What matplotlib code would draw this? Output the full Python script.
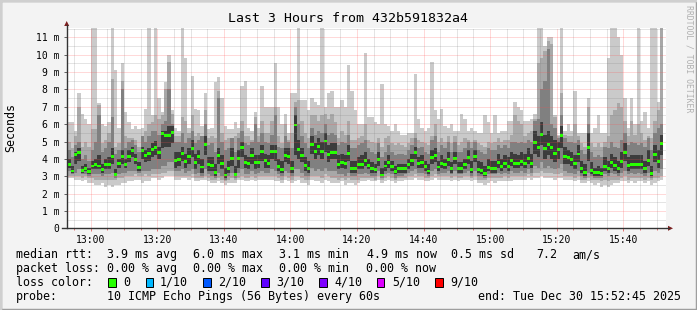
import matplotlib
matplotlib.use('Agg')
import matplotlib.pyplot as plt
import numpy as np
from matplotlib.lines import Line2D
from matplotlib.patches import Polygon, Rectangle

plt.rcParams['font.family'] = ['DejaVu Sans Mono']

# ---------------- data (one value per minute, 12:53 .. 15:51) ----------------
title = "Last 3 Hours from 432b591832a4"
ylabel = "Seconds"
x_ticks_min = [7.25 + 20 * i for i in range(9)]           # minutes after 12:52:45
x_tick_labels = ["13:00", "13:20", "13:40", "14:00", "14:20", "14:40", "15:00", "15:20", "15:40"]
y_ticks = list(range(12))
y_tick_labels = ["0"] + ["%d m" % v for v in range(1, 12)]

rtt_median = [
 3.69,3.30,4.26,4.36,3.32,3.42,3.26,3.59,3.65,3.59,3.38,3.65,3.69,4.13,3.11,3.74,4.15,3.70,4.11,4.47,3.97,3.49,4.47,4.22,4.32,4.53,4.68,4.38,5.47,5.37,
 5.37,5.51,3.88,3.97,4.32,3.84,4.11,4.57,3.78,4.11,3.53,4.84,3.65,3.63,3.22,4.18,3.72,3.07,3.42,4.03,3.11,4.03,4.64,3.80,3.74,4.20,3.80,3.80,4.41,3.88,
 3.76,4.41,4.41,3.57,3.38,4.22,4.13,3.42,5.95,4.53,4.17,3.61,3.45,4.82,4.41,4.72,4.45,5.03,4.24,4.38,4.38,3.70,3.78,3.72,4.30,3.42,3.42,3.65,3.69,3.90,
 3.63,3.45,3.38,3.95,3.07,3.59,3.80,3.57,3.26,3.42,3.42,3.42,3.69,3.90,4.38,3.76,3.80,3.57,3.30,4.07,4.20,3.53,3.76,3.65,3.99,3.45,4.03,3.42,3.42,3.65,
 4.07,3.38,4.13,3.38,3.34,3.15,3.49,3.45,3.45,3.80,3.55,3.76,3.57,3.88,3.72,3.72,3.84,3.74,4.01,3.76,4.93,4.68,5.41,4.57,4.84,4.64,4.30,4.53,5.37,4.13,
 4.07,3.95,3.74,4.28,3.45,3.22,4.68,3.34,3.19,3.19,3.15,3.57,3.45,3.80,3.63,3.45,3.84,4.34,3.61,3.69,3.65,3.69,3.65,3.42,3.92,3.13,4.26,3.84,4.89]

# smoke: outer band (min..max) and inner bands
rtt_min = [
 2.9,2.9,2.8,2.8,2.7,2.8,2.6,2.6,2.5,2.5,2.6,2.4,2.5,2.4,2.5,2.5,2.6,2.6,2.7,2.7,2.8,2.8,2.6,2.7,2.7,2.9,2.9,2.8,2.9,3.0,
 3.0,3.0,2.8,2.8,2.9,2.9,2.8,2.9,2.7,2.7,2.8,2.8,2.7,2.6,2.6,2.7,2.6,2.5,2.6,2.6,2.6,2.8,2.8,2.7,2.7,2.8,2.7,2.8,2.8,2.8,
 2.8,2.8,2.7,2.7,2.6,2.8,2.7,2.6,2.7,2.8,2.6,2.6,2.5,2.8,2.7,2.7,2.6,2.8,2.7,2.6,2.6,2.6,2.7,2.5,2.6,2.6,2.5,2.6,2.7,2.7,
 2.8,2.7,2.7,2.8,2.6,2.7,2.8,2.7,2.6,2.7,2.7,2.8,2.8,2.8,2.9,2.8,2.8,2.7,2.7,2.8,2.9,2.8,2.8,2.8,2.8,2.7,2.8,2.7,2.8,2.8,
 2.8,2.7,2.8,2.6,2.6,2.5,2.6,2.7,2.6,2.7,2.7,2.7,2.7,2.7,2.8,2.8,2.8,2.8,2.9,2.8,2.9,2.9,3.0,2.9,2.9,2.9,2.8,2.9,2.9,2.8,
 2.8,2.8,2.7,2.8,2.6,2.6,2.7,2.6,2.5,2.6,2.4,2.5,2.4,2.5,2.6,2.6,2.7,2.7,2.6,2.7,2.6,2.7,2.7,2.6,2.7,2.5,2.6,2.7,2.8]
rtt_max = [
 6.1,6.1,5.6,7.8,6.6,6.3,6.0,12,12,7.2,6.0,5.9,6.1,12,9.1,5.8,9.5,6.7,6.1,5.7,5.9,5.7,5.8,6.9,12,6.5,12,7.5,6.7,8.4,
 10.0,6.8,5.8,5.6,12,9.8,5.8,8.8,6.9,6.8,5.9,7.8,5.7,5.8,8.4,8.7,7.5,5.9,5.7,5.7,6.1,5.8,8.2,8.5,5.8,5.6,6.7,5.8,8.2,7.0,
 7.0,7.0,9.5,7.0,6.0,6.6,5.5,7.8,7.8,12,7.4,7.4,6.8,7.5,7.3,7.1,12,7.0,7.8,7.9,7.0,7.0,7.4,7.0,9.4,7.9,6.8,6.0,6.0,10.1,
 6.4,6.4,6.1,6.0,8.3,6.0,5.9,5.6,6.0,5.6,5.4,5.4,5.5,5.5,8.9,6.3,5.8,5.6,5.8,9.6,6.8,6.3,6.9,5.9,5.8,6.0,5.6,5.6,6.6,6.3,
 5.6,5.8,5.6,5.5,5.5,6.5,6.1,5.5,6.5,5.5,5.6,5.6,6.2,6.2,7.3,7.0,6.8,6.2,6.2,6.3,6.6,12,12,10.5,11.0,11.0,6.5,5.4,12,5.6,
 6.0,5.6,7.9,5.5,5.5,5.5,7.5,5.5,5.8,6.5,5.5,5.5,9.8,12,12,11.0,10.0,7.5,5.8,7.5,6.0,12,6.2,6.7,5.8,12,12,7.3,12]
band2_lo = [
 3.0,3.0,3.0,3.0,2.9,3.0,2.9,2.9,2.8,2.8,2.8,2.8,2.8,2.8,2.8,2.9,2.9,3.0,3.0,3.0,3.1,3.0,3.0,3.1,3.0,3.1,3.1,3.1,3.2,3.2,
 3.3,3.3,3.0,3.0,3.0,3.0,3.0,3.1,2.9,2.9,2.9,3.0,2.9,2.8,2.8,2.9,2.8,2.7,2.8,2.9,2.8,2.9,3.0,2.9,2.9,3.0,2.9,3.0,3.0,3.0,
 3.0,3.0,3.0,2.9,2.8,3.0,2.9,2.8,3.0,3.0,2.9,2.8,2.8,3.0,3.0,3.0,2.9,3.1,3.0,2.9,2.9,2.8,2.9,2.8,2.9,2.8,2.8,2.8,2.9,2.9,
 2.9,2.9,2.8,3.0,2.8,2.9,3.0,2.9,2.8,2.9,2.9,2.9,3.0,3.0,3.1,3.0,3.0,2.9,2.9,3.0,3.1,3.0,3.0,3.0,3.0,2.9,3.0,2.9,2.9,3.0,
 3.0,2.9,3.0,2.8,2.8,2.8,2.9,2.9,2.9,2.9,2.9,3.0,2.9,3.0,3.0,3.0,3.0,3.0,3.1,3.0,3.2,3.2,3.3,3.2,3.2,3.2,3.1,3.1,3.2,3.0,
 3.0,3.0,2.9,3.0,2.8,2.8,2.9,2.8,2.8,2.8,2.7,2.8,2.7,2.8,2.8,2.8,2.9,3.0,2.8,2.9,2.9,2.9,2.9,2.8,2.9,2.8,2.9,2.9,3.0]
band2_hi = [
 5.0,4.6,5.3,7.0,4.7,5.0,4.7,5.7,5.7,7.1,4.9,5.1,5.5,8.6,4.7,4.9,8.5,5.3,5.2,5.2,5.1,4.7,5.3,5.6,6.0,6.1,6.5,6.3,6.5,8.0,
 9.6,6.6,5.3,5.3,6.4,6.2,5.5,6.5,5.3,5.5,5.3,6.8,5.2,5.3,5.2,7.9,5.5,5.1,5.2,5.2,5.3,5.5,6.2,5.3,5.3,5.1,6.4,5.3,6.2,5.5,
 5.5,6.2,7.0,5.3,4.9,6.0,5.1,5.5,7.3,7.4,6.2,5.5,5.2,6.5,6.5,6.2,6.5,6.6,6.3,6.6,6.1,5.2,5.6,5.4,6.2,5.1,5.1,5.2,5.3,6.0,
 5.1,5.0,4.9,5.2,4.7,5.2,5.3,4.9,4.8,4.9,4.8,4.7,4.9,5.2,5.5,5.1,5.0,4.9,4.8,5.3,6.0,5.0,5.2,5.0,5.3,4.9,5.3,4.8,5.0,5.2,
 5.1,5.0,5.1,4.9,4.8,4.7,5.0,4.9,5.0,5.2,5.0,5.1,5.1,5.4,6.5,6.2,6.0,5.3,5.5,5.6,6.3,9.5,9.8,10.2,10.8,10.6,6.4,5.3,7.8,5.2,
 5.3,5.3,6.0,5.1,4.9,4.7,7.0,4.9,4.7,4.9,4.7,5.0,5.3,6.5,6.8,7.2,7.0,6.2,5.3,6.2,5.4,6.0,5.5,5.1,5.3,5.2,6.2,6.8,12]
band3_lo = [
 3.3,3.1,3.2,3.4,3.1,3.1,3.0,3.1,3.1,3.1,3.0,3.1,3.1,3.2,2.9,3.1,3.2,3.2,3.3,3.3,3.3,3.2,3.3,3.3,3.3,3.4,3.4,3.4,3.6,3.6,
 3.8,3.8,3.3,3.3,3.4,3.2,3.3,3.4,3.1,3.2,3.0,3.4,3.1,3.0,2.9,3.2,3.0,2.8,3.0,3.2,2.9,3.2,3.4,3.1,3.1,3.3,3.1,3.2,3.3,3.2,
 3.2,3.4,3.3,3.1,3.0,3.3,3.2,3.0,3.4,3.4,3.2,3.0,3.0,3.5,3.3,3.4,3.3,3.5,3.3,3.3,3.3,3.1,3.1,3.0,3.2,3.0,3.0,3.1,3.1,3.2,
 3.1,3.0,3.0,3.3,2.9,3.1,3.2,3.1,2.9,3.0,3.0,3.1,3.2,3.3,3.4,3.2,3.2,3.1,3.0,3.3,3.4,3.1,3.2,3.2,3.3,3.1,3.3,3.1,3.1,3.2,
 3.3,3.0,3.3,3.0,3.0,2.9,3.1,3.1,3.1,3.2,3.1,3.2,3.1,3.3,3.2,3.2,3.3,3.2,3.4,3.2,3.6,3.5,3.8,3.5,3.6,3.5,3.4,3.5,3.7,3.3,
 3.2,3.2,3.1,3.3,3.0,2.9,3.2,3.0,2.9,2.9,2.9,3.1,3.0,3.2,3.1,3.0,3.2,3.3,3.1,3.2,3.1,3.2,3.1,3.0,3.2,2.9,3.3,3.2,3.4]
band3_hi = [
 4.5,4.1,4.8,5.0,4.0,4.2,3.9,4.5,5.0,6.5,4.4,4.6,5.0,6.4,4.3,4.5,8.0,4.6,5.0,5.1,4.8,4.4,5.3,5.0,5.3,5.6,5.6,5.4,6.0,6.2,
 8.0,6.0,5.0,5.0,5.5,4.9,5.2,5.6,4.9,5.1,5.3,6.0,4.8,4.9,4.4,7.5,5.0,4.5,4.6,5.2,4.4,5.2,5.6,4.9,4.8,5.0,6.0,5.0,5.5,5.0,
 4.9,5.4,6.5,4.7,4.6,5.3,5.0,4.6,7.0,6.0,5.3,4.9,4.6,5.8,5.4,5.6,5.5,6.0,5.4,5.5,5.4,4.8,5.0,4.9,5.4,4.6,4.6,4.8,4.9,5.1,
 4.6,4.4,4.3,4.9,4.1,4.4,4.8,4.4,4.2,4.3,4.3,4.2,4.5,4.8,5.2,4.6,4.7,4.4,4.3,5.1,5.3,4.4,4.8,4.6,5.0,4.4,5.0,4.4,4.4,4.6,
 5.0,4.6,5.0,4.5,4.4,4.3,4.6,4.5,4.5,4.8,4.6,4.8,4.6,5.0,5.0,4.9,5.0,4.9,5.1,5.0,6.2,6.3,8.0,8.5,10.3,6.0,5.8,5.2,6.5,5.4,
 5.0,5.0,4.9,5.3,4.5,4.3,6.0,4.4,4.1,4.2,4.1,4.7,4.6,5.0,4.7,4.6,5.1,5.5,4.8,5.0,4.9,4.8,4.9,4.7,5.2,4.5,5.5,5.8,6.0]
core_lo = [
 3.5,3.2,3.7,3.9,3.2,3.3,3.1,3.4,3.4,3.4,3.2,3.4,3.4,3.7,3.0,3.5,3.7,3.5,3.8,4.1,3.7,3.3,4.0,3.8,3.9,4.1,4.2,4.0,4.6,4.7,
 4.7,4.9,3.5,3.6,3.9,3.5,3.7,4.1,3.4,3.7,3.2,4.2,3.3,3.3,3.0,3.7,3.4,2.9,3.2,3.6,3.0,3.5,4.1,3.5,3.4,3.7,3.4,3.5,3.9,3.5,
 3.5,4.0,3.9,3.3,3.2,3.8,3.7,3.2,4.2,4.0,3.8,3.3,3.2,4.3,4.0,4.2,4.0,4.4,3.8,4.0,4.0,3.4,3.5,3.4,3.9,3.2,3.2,3.4,3.4,3.6,
 3.4,3.2,3.2,3.6,3.0,3.3,3.5,3.3,3.1,3.2,3.2,3.2,3.4,3.6,4.0,3.5,3.5,3.3,3.1,3.7,3.8,3.3,3.5,3.4,3.6,3.2,3.7,3.2,3.2,3.4,
 3.7,3.2,3.8,3.2,3.1,3.0,3.3,3.2,3.2,3.5,3.3,3.5,3.3,3.6,3.5,3.5,3.6,3.5,3.7,3.5,4.3,4.1,4.8,4.0,4.2,4.0,3.8,4.0,4.6,3.7,
 3.7,3.6,3.4,3.8,3.2,3.0,3.9,3.1,3.0,3.0,3.0,3.3,3.2,3.5,3.3,3.2,3.5,3.9,3.3,3.4,3.4,3.4,3.4,3.2,3.6,3.0,3.8,3.5,4.2]
core_hi = [
 4.0,3.6,4.4,4.6,3.6,3.7,3.5,3.9,4.0,4.2,3.7,4.0,4.1,4.6,3.4,4.0,4.5,4.0,4.5,4.7,4.3,3.8,4.7,4.5,4.6,4.9,5.0,4.7,5.6,5.6,
 5.9,5.9,4.4,4.4,4.7,4.3,4.6,5.1,4.3,4.5,4.0,5.3,4.1,4.1,3.7,4.6,4.2,3.5,3.9,4.6,3.6,4.5,5.0,4.2,4.1,4.6,4.2,4.2,4.8,4.3,
 4.2,4.8,4.8,4.0,3.9,4.6,4.6,3.9,6.5,5.1,4.6,4.1,3.9,5.3,4.9,5.2,5.0,5.5,4.8,4.9,4.9,4.2,4.3,4.2,4.8,3.9,3.9,4.1,4.2,4.4,
 4.0,3.8,3.7,4.4,3.5,3.9,4.2,3.9,3.6,3.7,3.7,3.7,4.0,4.3,4.7,4.1,4.2,3.9,3.7,4.5,4.6,3.9,4.2,4.0,4.4,3.8,4.4,3.8,3.8,4.0,
 4.5,3.9,4.5,3.9,3.8,3.6,4.0,3.9,3.9,4.3,4.0,4.2,4.1,4.4,4.3,4.2,4.4,4.3,4.6,4.3,5.6,5.3,6.1,5.4,5.6,5.3,5.1,5.0,5.9,4.7,
 4.5,4.4,4.2,4.8,3.9,3.7,5.5,3.8,3.5,3.6,3.5,4.1,3.9,4.3,4.1,3.9,4.4,4.9,4.1,4.2,4.2,4.2,4.2,3.9,4.5,3.6,4.8,4.5,5.4]

stats_rtt = [("median rtt:", 16), ("3.9 ms avg", 106.7), ("6.0 ms max", 193.3), ("3.1 ms min", 279.3),
             ("4.9 ms now", 366.7), ("0.5 ms sd", 451), ("7.2", 536.7), ("am/s", 572.3)]
stats_loss = [("packet loss:", 16), ("0.00 % avg", 106.7), ("0.00 % max", 193.3), ("0.00 % min", 279.3),
              ("0.00 % now", 366.0)]
loss_labels = ["0", "1/10", "2/10", "3/10", "4/10", "5/10", "9/10"]
loss_colors = ["#26ff00", "#00b8ff", "#0059ff", "#5e00ff", "#7e00ff", "#dd00ff", "#ff0000"]
loss_box_x = [108.3, 145.7, 203.3, 261.0, 319.3, 376.7, 435.0]
loss_text_x = [123.0, 160.0, 218.3, 276.0, 334.3, 392.3, 450.0]

# ---------------- figure ----------------
W, H = 697, 310
fig = plt.figure(figsize=(W / 100, H / 100), dpi=100)
fig.patch.set_facecolor('#f3f3f3')

def fx(px):
    return px / W

def fy(py):
    return 1 - py / H

# frame shading
fig.add_artist(Rectangle((0, 0), 1, 1, transform=fig.transFigure, fill=False,
                         edgecolor='#9e9e9e', linewidth=2.5))
fig.add_artist(Line2D([0, 0, 1], [0, 1, 1], transform=fig.transFigure, color='#cfcfcf', linewidth=2.5))

ax_left, ax_right, ax_top, ax_bottom = 66.5, 666.0, 28.0, 228.3
ax = fig.add_axes([fx(ax_left), fy(ax_bottom), (ax_right - ax_left) / W, (ax_bottom - ax_top) / H])
ax.set_facecolor('white')
px_per_ms = 17.36
ax.set_xlim(0, 180 * (ax_right - ax_left) / 599.2)
ax.set_ylim(0, (ax_bottom - ax_top) / px_per_ms)

n = len(rtt_median)
xs = np.arange(n) + 0.25
stack = np.sort(np.vstack([rtt_min, band2_lo, band3_lo, core_lo, core_hi, band3_hi, band2_hi, rtt_max]), axis=0)
smoke_cols = ['#cacaca', '#a8a8a8', '#808080', '#3c3c3c']
for i, c in enumerate(smoke_cols):
    lo = stack[i]
    hi = stack[7 - i]
    ax.bar(xs, hi - lo, bottom=lo, width=1.0, align='edge', color=c, linewidth=0, zorder=2 + i * 0.1)

med = np.array(rtt_median)
mh = 0.17
ax.bar(xs, mh, bottom=med - mh / 2, width=1.0, align='edge', color=loss_colors[0], linewidth=0, zorder=3)

# grid (drawn over the smoke)
ymax = ax.get_ylim()[1]
grid_minor = (0.5, 0.5, 0.5, 0.42)
grid_major = (1.0, 0.3, 0.3, 0.42)
for m in np.arange(2.25, 180, 5):
    is_major = any(abs(m - t) < 1e-6 for t in x_ticks_min)
    ax.axvline(m, color=grid_major if is_major else grid_minor,
               linestyle=(0, (1, 1)), linewidth=0.72, zorder=5)
for v in np.arange(0.5, ymax, 0.5):
    is_major = abs(v - round(v)) < 1e-6
    ax.axhline(v, color=grid_major if is_major else grid_minor,
               linestyle=(0, (1, 1)), linewidth=0.72, zorder=5)

for s in ax.spines.values():
    s.set_visible(False)

ax.set_xticks(x_ticks_min)
ax.set_xticklabels(x_tick_labels)
ax.set_xticks(np.arange(2.25, 180, 5), minor=True)
ax.set_yticks(y_ticks)
ax.set_yticklabels(y_tick_labels)
ax.tick_params(axis='x', which='major', length=2.2, width=0.7, color='#e07070', labelsize=7, pad=2.5, direction='out')
ax.tick_params(axis='x', which='minor', length=1.5, width=0.7, color='#e07070', direction='out')
ax.tick_params(axis='y', which='major', length=2.2, width=0.7, color='#606060', labelsize=7, pad=3.0, direction='out')

# axes lines with arrows
axis_col = '#333333'
arrow_col = '#7f1f1f'
fig.add_artist(Line2D([fx(66.7), fx(66.7)], [fy(228.3), fy(25)], transform=fig.transFigure, color=axis_col, linewidth=1.0))
fig.add_artist(Line2D([fx(62.0), fx(669)], [fy(228.3), fy(228.3)], transform=fig.transFigure, color=axis_col, linewidth=1.0))
fig.add_artist(Polygon([[fx(64.2), fy(26.0)], [fx(69.2), fy(26.0)], [fx(66.7), fy(21.0)]], closed=True,
                       transform=fig.transFigure, color=arrow_col, linewidth=0))
fig.add_artist(Polygon([[fx(668.0), fy(225.8)], [fx(668.0), fy(230.8)], [fx(673.0), fy(228.3)]], closed=True,
                       transform=fig.transFigure, color=arrow_col, linewidth=0))

# texts
fig.text(fx(348), fy(19), title, fontsize=9.5, ha='center', va='center')
fig.text(fx(11), fy(127), ylabel, fontsize=8.4, rotation=90, ha='center', va='center')
fig.text(fx(688.5), fy(59), "RRDTOOL / TOBI OETIKER", fontsize=5.9, rotation=270, ha='center', va='center',
         color='#b0b0b0')

fs = 8.35
for txt, x in stats_rtt:
    fig.text(fx(x), fy(254.5), txt, fontsize=fs, ha='left', va='center')
for txt, x in stats_loss:
    fig.text(fx(x), fy(268.4), txt, fontsize=fs, ha='left', va='center')
fig.text(fx(16), fy(282.4), "loss color:", fontsize=fs, ha='left', va='center')
for lab, col, bx, tx in zip(loss_labels, loss_colors, loss_box_x, loss_text_x):
    fig.add_artist(Rectangle((fx(bx), fy(286.5)), 7.7 / W, 8.2 / H, transform=fig.transFigure,
                             facecolor=col, edgecolor='black', linewidth=0.7))
    fig.text(fx(tx), fy(282.4), lab, fontsize=fs, ha='left', va='center')
fig.text(fx(16), fy(296.2), "probe:", fontsize=fs, ha='left', va='center')
fig.text(fx(107), fy(296.2), "10 ICMP Echo Pings (56 Bytes) every 60s", fontsize=fs, ha='left', va='center')
fig.text(fx(478.3), fy(296.2), "end: Tue Dec 30 15:52:45 2025", fontsize=fs, ha='left', va='center')

fig.savefig('out.png', dpi=100, facecolor=fig.get_facecolor())
